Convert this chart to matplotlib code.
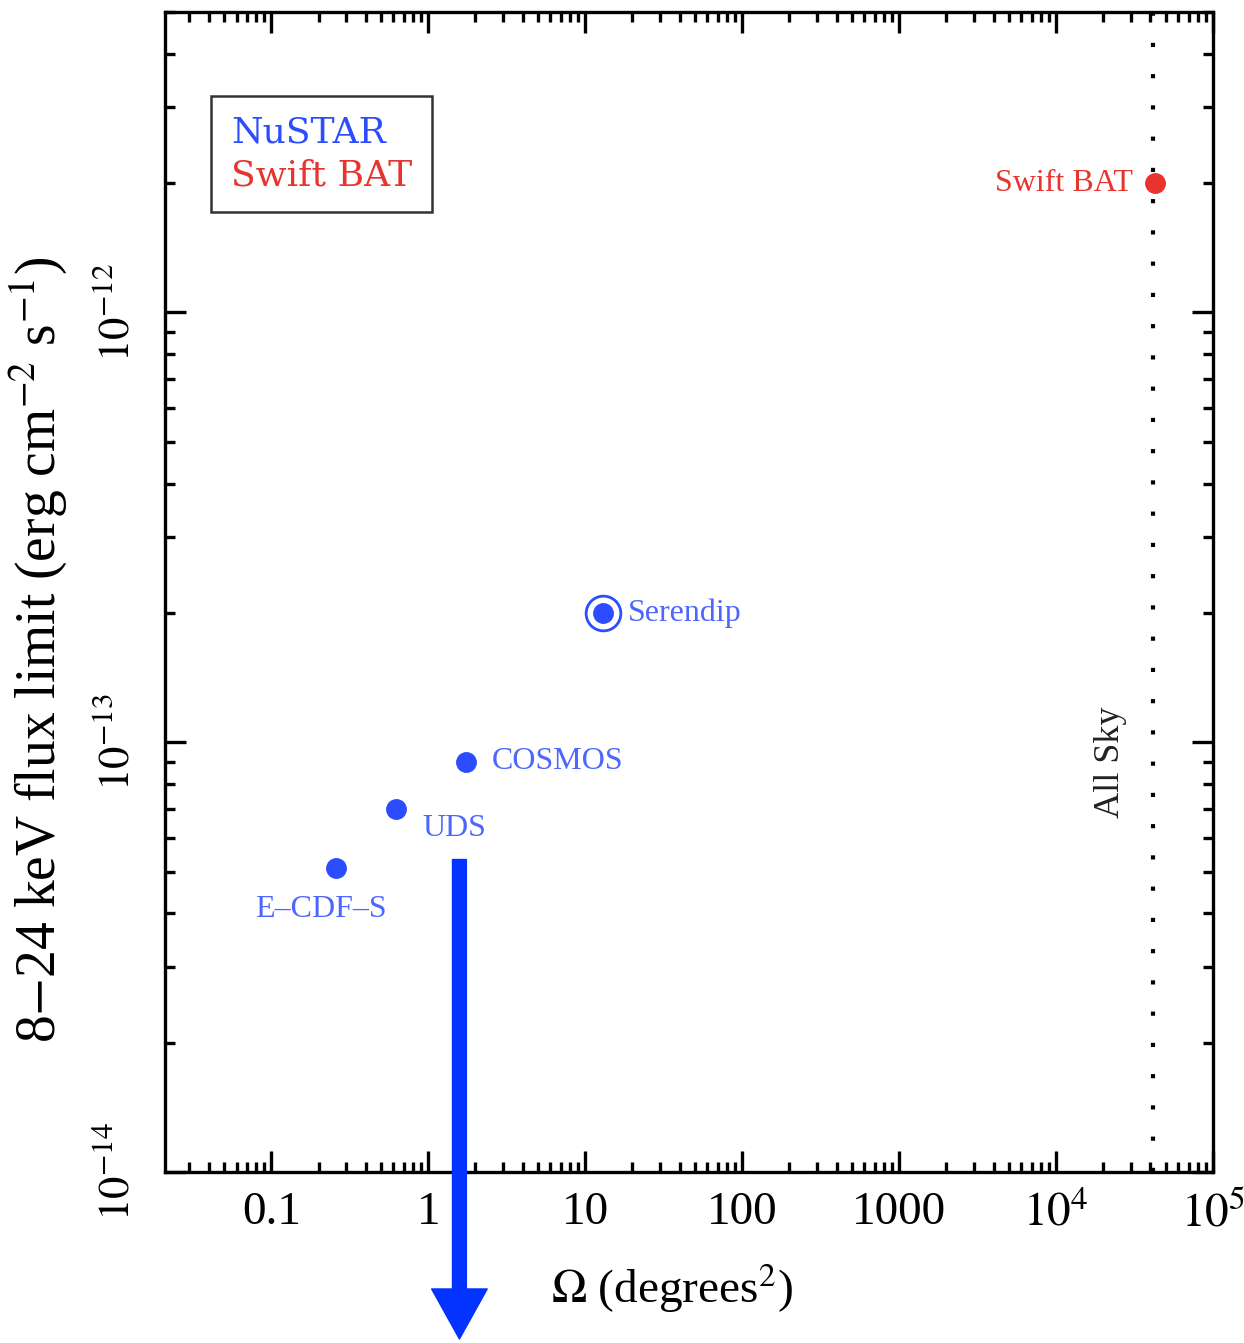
import matplotlib
matplotlib.use("Agg")
import matplotlib.pyplot as plt
from matplotlib.lines import Line2D
from matplotlib.ticker import LogLocator, NullFormatter

# survey data: area (deg^2) vs 8-24 keV flux limit
nustar_names = ["E\u2013CDF\u2013S", "UDS", "COSMOS", "Serendip"]
nustar_area = [0.26, 0.62, 1.75, 13.0]
nustar_flux = [5.1e-14, 7.0e-14, 9.0e-14, 2.0e-13]

bat_name = "Swift BAT"
bat_area = [43000.0]
bat_flux = [2.0e-12]

all_sky_area = 41253.0
arrow_x = 1.58

xtick_vals = [0.1, 1, 10, 100, 1000, 1e4, 1e5]
xtick_labels = ["0.1", "1", "10", "100", "1000", r"$10^4$", r"$10^5$"]
ytick_vals = [1e-14, 1e-13, 1e-12]
ytick_labels = [r"$10^{-14}$", r"$10^{-13}$", r"$10^{-12}$"]

blue = "#2b4cff"
blue_txt = "#4d66ff"
red = "#e8342f"

plt.rcParams["font.family"] = ["Liberation Serif", "DejaVu Serif"]
plt.rcParams["mathtext.fontset"] = "stix"

fig = plt.figure(figsize=(12.44, 13.43), dpi=100)
ax = fig.add_axes([0.1326, 0.1273, 0.8424, 0.8637])

ax.set_xscale("log")
ax.set_yscale("log")
ax.set_xlim(0.021, 1.0e5)
ax.set_ylim(1e-14, 5e-12)

# NuSTAR surveys
ax.plot(nustar_area, nustar_flux, "o", color=blue, markersize=14, zorder=3)
ax.plot(nustar_area[3:], nustar_flux[3:], "o", mfc="none", mec=blue,
        markersize=25, markeredgewidth=2, zorder=3)
# Swift BAT
ax.plot(bat_area, bat_flux, "o", color=red, markersize=14, zorder=3)

# all sky line
ax.axvline(all_sky_area, color="black", linestyle=(0, (1, 6.5)), linewidth=3, zorder=2)
ax.annotate("All Sky", xy=(all_sky_area, 9.0e-14), xytext=(-30, 0),
            textcoords="offset points", rotation=90, ha="center", va="center",
            fontsize=26, color="#222222")

# point labels
lbl_kw = dict(textcoords="offset points", fontsize=23, color=blue_txt)
ax.annotate(nustar_names[0], xy=(nustar_area[0], nustar_flux[0]), xytext=(-11, -30),
            ha="center", va="center", **lbl_kw)
ax.annotate(nustar_names[1], xy=(nustar_area[1], nustar_flux[1]), xytext=(19, -14),
            ha="left", va="center", **lbl_kw)
ax.annotate(nustar_names[2], xy=(nustar_area[2], nustar_flux[2]), xytext=(18, 0),
            ha="left", va="center", **lbl_kw)
ax.annotate(nustar_names[3], xy=(nustar_area[3], nustar_flux[3]), xytext=(18, 0),
            ha="left", va="center", **lbl_kw)
ax.annotate(bat_name, xy=(bat_area[0], bat_flux[0]), xytext=(-16, 0),
            textcoords="offset points", ha="right", va="center",
            fontsize=23, color=red)

# ticks
ax.set_xticks(xtick_vals)
ax.set_xticklabels(xtick_labels)
ax.set_yticks(ytick_vals)
ax.set_yticklabels(ytick_labels)
ax.xaxis.set_minor_locator(LogLocator(base=10, subs=range(2, 10), numticks=20))
ax.yaxis.set_minor_locator(LogLocator(base=10, subs=range(2, 10), numticks=20))
ax.xaxis.set_minor_formatter(NullFormatter())
ax.yaxis.set_minor_formatter(NullFormatter())
ax.tick_params(which="both", direction="in", top=True, right=True, width=2.4)
ax.tick_params(which="major", length=15)
ax.tick_params(which="minor", length=7.5)
ax.tick_params(axis="x", which="major", labelsize=34, pad=14)
ax.tick_params(axis="y", which="major", labelsize=32, pad=20)
for lab in ax.get_yticklabels():
    lab.set_rotation(90)
    lab.set_va("center")
for sp in ax.spines.values():
    sp.set_linewidth(2.4)

ax.set_xlabel(r"$\Omega$ (degrees$^2$)", fontsize=34)
ax.xaxis.set_label_coords(0.484, -0.077)
ax.set_ylabel(r"8$-$24 keV flux limit (erg cm$^{-2}$ s$^{-1}$)", fontsize=40)
ax.yaxis.set_label_coords(-0.092, 0.45)

# legend box with coloured text only
handles = [Line2D([], [], linestyle="none"), Line2D([], [], linestyle="none")]
leg = ax.legend(handles, ["NuSTAR", "Swift BAT"], loc="upper left",
                bbox_to_anchor=(0.044, 0.928), borderaxespad=0, handlelength=0,
                handletextpad=0, fancybox=False, framealpha=1, edgecolor="#333333",
                labelcolor=[blue, red], labelspacing=0.25, borderpad=0.55,
                prop={"family": "DejaVu Serif", "size": 26})
leg.get_frame().set_linewidth(1.8)

# big arrow pointing down below the axes
ax.annotate("", xy=(arrow_x, 0.003), xycoords=("data", "figure fraction"),
            xytext=(arrow_x, 0.36), textcoords=("data", "figure fraction"),
            arrowprops=dict(arrowstyle="simple,head_width=4.0,head_length=3.6,tail_width=1.0",
                            color="#0433ff", mutation_scale=10, shrinkA=0, shrinkB=0),
            annotation_clip=False, zorder=5)

fig.savefig("out.png", dpi=100)
